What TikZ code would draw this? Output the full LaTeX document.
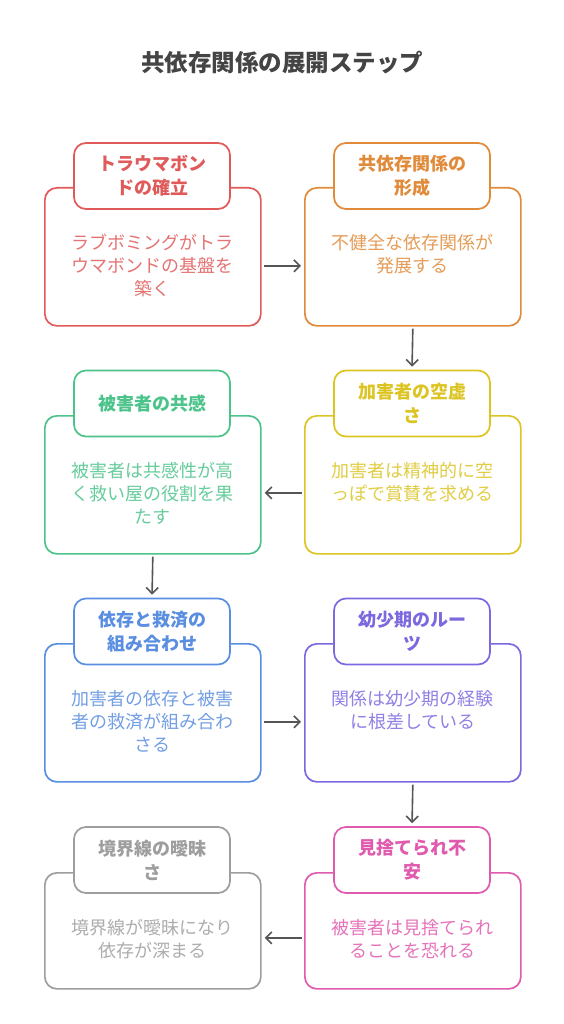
\documentclass[tikz,border=0pt]{standalone}
\usepackage{fontspec}
\setmainfont{Noto Sans CJK JP}
\usetikzlibrary{arrows.meta}

\definecolor{titlegray}{HTML}{444444}
\definecolor{arrowgray}{HTML}{555555}
\definecolor{stepred}{HTML}{E05A5A}
\definecolor{steporange}{HTML}{E08A3A}
\definecolor{stepyellow}{HTML}{DCC423}
\definecolor{stepgreen}{HTML}{4CC38A}
\definecolor{stepblue}{HTML}{5A8EE0}
\definecolor{steppurple}{HTML}{7C69E0}
\definecolor{stepgray}{HTML}{9E9E9E}
\definecolor{steppink}{HTML}{E05AAE}

\tikzset{
  stepbox/.style={draw=#1, line width=1.7pt, rounded corners=12pt, fill=white,
    minimum width=216pt, minimum height=138pt, anchor=north west, inner sep=0pt},
  headbox/.style={draw=#1, line width=1.7pt, rounded corners=12pt, fill=white,
    minimum width=156pt, minimum height=66pt, text=#1, inner sep=0pt,
    font=\fontsize{18}{24}\selectfont\bfseries, align=center},
  bodytext/.style={text=#1!85, font=\fontsize{18}{23}\selectfont, align=center,
    anchor=north, inner sep=0pt},
  flow/.style={-{Straight Barb[length=6pt,width=12pt,line width=1.6pt]}, line width=1.6pt, draw=arrowgray,
    shorten <=2pt, shorten >=3pt},
}

\begin{document}
\begin{tikzpicture}[x=1pt, y=-1pt]
  \useasboundingbox (0,0) rectangle (564,1024);

  % Title
  \node[font=\fontsize{23.5}{26}\selectfont\bfseries, text=titlegray] (title) at (282,63) {共依存関係の展開ステップ};

  % Row 1
  \node[stepbox=stepred] (b1) at (44,187) {};
  \node[headbox=stepred] (h1) at (152,176) {トラウマボン\\ドの確立};
  \node[bodytext=stepred] (t1) at ([yshift=-47pt]b1.north) {ラブボミングがトラ\\ウマボンドの基盤を\\築く};

  \node[stepbox=steporange] (b2) at (304,187) {};
  \node[headbox=steporange] (h2) at (412,176) {共依存関係の\\形成};
  \node[bodytext=steporange] (t2) at ([yshift=-47pt]b2.north) {不健全な依存関係が\\発展する};

  % Row 2
  \node[stepbox=stepgreen] (b3) at (44,415) {};
  \node[headbox=stepgreen] (h3) at (152,403.5) {被害者の共感};
  \node[bodytext=stepgreen] (t3) at ([yshift=-47pt]b3.north) {被害者は共感性が高\\く救い屋の役割を果\\たす};

  \node[stepbox=stepyellow] (b4) at (304,415) {};
  \node[headbox=stepyellow] (h4) at (412,403.5) {加害者の空虚\\さ};
  \node[bodytext=stepyellow] (t4) at ([yshift=-47pt]b4.north) {加害者は精神的に空\\っぽで賞賛を求める};

  % Row 3
  \node[stepbox=stepblue] (b5) at (44,643) {};
  \node[headbox=stepblue] (h5) at (152,631.5) {依存と救済の\\組み合わせ};
  \node[bodytext=stepblue] (t5) at ([yshift=-47pt]b5.north) {加害者の依存と被害\\者の救済が組み合わ\\さる};

  \node[stepbox=steppurple] (b6) at (304,643) {};
  \node[headbox=steppurple] (h6) at (412,631.5) {幼少期のルー\\ツ};
  \node[bodytext=steppurple] (t6) at ([yshift=-47pt]b6.north) {関係は幼少期の経験\\に根差している};

  % Row 4
  \node[stepbox=stepgray, minimum height=116pt] (b7) at (44,872) {};
  \node[headbox=stepgray] (h7) at (152,860) {境界線の曖昧\\さ};
  \node[bodytext=stepgray] (t7) at ([yshift=-47pt]b7.north) {境界線が曖昧になり\\依存が深まる};

  \node[stepbox=steppink, minimum height=116pt] (b8) at (304,872) {};
  \node[headbox=steppink] (h8) at (412,860) {見捨てられ不\\安};
  \node[bodytext=steppink] (t8) at ([yshift=-47pt]b8.north) {被害者は見捨てられ\\ることを恐れる};

  % Connections
  \draw[flow] ([yshift=-9pt]b1.east) -- ([yshift=-9pt]b2.west);
  \draw[flow] (b2.south) -- (h4.north);
  \draw[flow] ([yshift=-8pt]b4.west) -- ([yshift=-8pt]b3.east);
  \draw[flow] (b3.south) -- (h5.north);
  \draw[flow] ([yshift=-9pt]b5.east) -- ([yshift=-9pt]b6.west);
  \draw[flow] (b6.south) -- (h8.north);
  \draw[flow] ([yshift=-7pt]b8.west) -- ([yshift=-7pt]b7.east);
\end{tikzpicture}
\end{document}
